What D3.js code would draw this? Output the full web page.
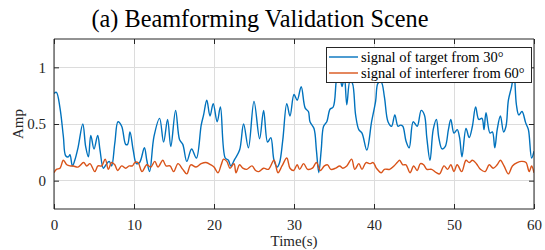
<!DOCTYPE html>
<html><head><meta charset="utf-8">
<script src="https://cdn.jsdelivr.net/npm/d3@7"></script>
<style>body{margin:0;background:#fff;} svg{display:block;}</style>
</head><body>
<svg id="chart" width="545" height="250" font-family="Liberation Serif"></svg>
<script>
const titleText = "(a) Beamforming Validation Scene";
const xLabel = "Time(s)";
const yLabel = "Amp";
const xTicks = [0, 10, 20, 30, 40, 50, 60];
const yTicks = [0, 0.5, 1];
const seriesNames = ["signal of target from 30°", "signal of interferer from 60°"];

const targetT = [0,0.3,0.75,1.17,1.46,1.8,2.0,2.3,2.6,3.0,3.6,3.96,4.3,4.6,5.0,5.46,5.75,6.17,6.5,6.9,7.2,7.6,8.0,8.46,8.96,9.2,9.5,9.9,10.3,10.7,11.3,11.6,11.95,12.5,13.2,13.7,14.2,14.6,15.2,15.7,16.1,16.6,17.2,17.8,18.4,18.7,19.1,19.5,19.9,20.4,20.8,21.4,21.8,22.1,22.6,23.2,23.7,24.3,25.0,25.7,26.2,26.7,27.1,27.5,27.9,28.2,28.6,29.1,29.5,30.0,30.4,30.9,31.4,31.8,32.0,32.5,32.8,33.1,33.4,33.7,34.1,34.5,34.9,35.3,35.6,36.0,36.3,36.6,37.0,37.3,37.7,38.1,38.5,39.1,39.7,40.2,40.5,40.9,41.3,41.75,42.2,42.6,43.0,43.3,43.6,44.0,44.4,44.9,45.4,45.9,46.3,46.6,47.0,47.4,47.8,48.1,48.5,48.9,49.3,49.6,50.0,50.4,50.7,51.0,51.5,51.9,52.3,52.7,53.1,53.5,53.75,54.0,54.5,54.8,55.1,55.4,55.8,56.2,56.5,56.8,57.2,57.5,57.8,58.1,58.5,58.96,59.3,59.7,60.0];
const targetV = [0.77,0.78,0.64,0.39,0.22,0.21,0.23,0.13,0.18,0.29,0.50,0.30,0.21,0.40,0.28,0.40,0.27,0.11,0.14,0.17,0.13,0.33,0.52,0.48,0.32,0.32,0.43,0.27,0.15,0.16,0.29,0.18,0.08,0.39,0.55,0.34,0.54,0.30,0.62,0.36,0.32,0.17,0.28,0.20,0.49,0.58,0.71,0.57,0.68,0.52,0.65,0.20,0.18,0.13,0.19,0.27,0.50,0.29,0.70,0.37,0.62,0.34,0.38,0.18,0.12,0.16,0.36,0.68,0.57,0.76,0.71,0.83,0.64,0.61,0.52,0.46,0.27,0.07,0.27,0.48,0.52,0.63,0.65,0.89,0.98,0.83,0.92,0.67,0.88,0.86,0.58,0.45,0.42,0.27,0.52,0.70,0.86,0.87,0.74,0.52,0.48,0.58,0.48,0.49,0.48,0.35,0.29,0.52,0.48,0.62,0.58,0.38,0.18,0.45,0.54,0.38,0.28,0.30,0.45,0.54,0.42,0.45,0.38,0.21,0.46,0.38,0.48,0.65,0.54,0.55,0.45,0.60,0.42,0.43,0.29,0.45,0.57,0.43,0.48,0.71,0.83,0.95,0.67,0.58,0.61,0.51,0.45,0.20,0.26];

const interfT = [0,0.3,0.75,1.17,1.6,2.0,2.4,3.0,3.7,4.1,4.5,5.1,5.5,5.96,6.4,6.8,7.2,7.6,7.96,8.46,8.96,9.4,9.8,10.1,10.5,11.0,11.6,12.1,12.6,13.0,13.6,14.0,14.5,14.96,15.5,16.1,16.6,17.1,17.75,18.4,19.0,19.6,20.0,20.5,20.9,21.2,21.6,22.0,22.5,22.75,23.2,23.6,24.1,24.75,25.2,25.6,26.2,26.8,27.5,28.0,28.5,29.1,29.5,29.96,30.4,30.7,31.2,31.7,32.3,32.8,33.3,33.8,34.2,34.6,35.2,35.7,36.1,36.6,37.2,37.6,38.1,38.5,39.0,39.5,39.9,40.3,40.9,41.3,41.96,42.5,42.9,43.2,43.6,44.0,44.5,44.96,45.4,45.8,46.2,46.6,47.2,47.8,48.2,48.75,49.2,49.6,50.0,50.4,50.96,51.5,51.9,52.3,52.8,53.3,53.9,54.4,54.9,55.4,55.8,56.25,56.8,57.3,57.9,58.5,59.0,59.4,59.7,60.0];
const interfV = [0.07,0.10,0.11,0.18,0.14,0.13,0.13,0.12,0.16,0.13,0.15,0.08,0.13,0.13,0.19,0.10,0.16,0.14,0.09,0.13,0.11,0.13,0.13,0.16,0.16,0.08,0.14,0.12,0.17,0.12,0.18,0.13,0.13,0.08,0.15,0.10,0.06,0.14,0.12,0.15,0.16,0.14,0.12,0.07,0.14,0.19,0.17,0.11,0.15,0.07,0.14,0.11,0.10,0.13,0.09,0.08,0.11,0.10,0.18,0.07,0.13,0.20,0.11,0.09,0.14,0.10,0.15,0.10,0.11,0.16,0.09,0.13,0.14,0.10,0.11,0.13,0.11,0.13,0.19,0.10,0.15,0.10,0.16,0.15,0.16,0.11,0.07,0.10,0.10,0.13,0.16,0.18,0.14,0.14,0.07,0.13,0.09,0.15,0.14,0.10,0.10,0.07,0.06,0.13,0.10,0.14,0.08,0.14,0.08,0.18,0.16,0.18,0.15,0.10,0.08,0.14,0.11,0.14,0.18,0.13,0.06,0.13,0.16,0.17,0.16,0.08,0.13,0.07];

const colors = ["#0072BD", "#D95319"];
const FONT = "Liberation Serif";
const svg = d3.select("#chart");
const L = 54, R = 534, T = 39, B = 209;
const x = d3.scaleLinear().domain([0, 60]).range([L, R]);
const y = d3.scaleLinear().domain([-0.25, 1.25]).range([B, T]);
const axisCol = "#262626";

// grid
const g = svg.append("g");
g.selectAll(".gx").data(xTicks).enter().append("line")
  .attr("x1", d => x(d)).attr("x2", d => x(d)).attr("y1", T).attr("y2", B)
  .attr("stroke", "#dcdcdc").attr("stroke-width", 1).attr("shape-rendering", "crispEdges");
g.selectAll(".gy").data(yTicks).enter().append("line")
  .attr("x1", L).attr("x2", R).attr("y1", d => y(d)).attr("y2", d => y(d))
  .attr("stroke", "#dcdcdc").attr("stroke-width", 1).attr("shape-rendering", "crispEdges");

// lines
svg.append("clipPath").attr("id", "clip").append("rect")
  .attr("x", L).attr("y", T).attr("width", R - L).attr("height", B - T);
const line = d3.line().x(d => x(d[0])).y(d => y(d[1])).curve(d3.curveCatmullRom.alpha(0.5));
const data = [d3.zip(targetT, targetV), d3.zip(interfT, interfV)];
svg.append("g").attr("clip-path", "url(#clip)").selectAll("path").data(data).enter().append("path")
  .attr("d", line).attr("fill", "none").attr("stroke", (d, i) => colors[i])
  .attr("stroke-width", 1.4).attr("stroke-linejoin", "round");

// axes (ticks inward, on all sides)
const tl = 5;
const ax = svg.append("g").attr("transform", `translate(0,${B})`)
  .call(d3.axisBottom(x).tickValues(xTicks).tickSize(-tl).tickPadding(10).tickFormat(d3.format("d")));
const axT = svg.append("g").attr("transform", `translate(0,${T})`)
  .call(d3.axisTop(x).tickValues(xTicks).tickSize(-tl).tickFormat(""));
const ay = svg.append("g").attr("transform", `translate(${L},0)`)
  .call(d3.axisLeft(y).tickValues(yTicks).tickSize(-tl).tickPadding(8).tickFormat(d => d === 0.5 ? "0.5" : d3.format("d")(d)));
const ayR = svg.append("g").attr("transform", `translate(${R},0)`)
  .call(d3.axisRight(y).tickValues(yTicks).tickSize(-tl).tickFormat(""));
[ax, axT, ay, ayR].forEach(a => {
  a.attr("font-family", FONT).attr("font-size", 15);
  a.select(".domain").attr("stroke", axisCol).attr("stroke-width", 1);
  a.selectAll(".tick line").attr("stroke", axisCol);
  a.selectAll("text").attr("fill", axisCol).attr("font-family", FONT).attr("font-size", 15);
});
ay.selectAll(".domain").attr("d", `M0,${T}V${B}`);
ayR.selectAll(".domain").attr("d", `M0,${T}V${B}`);
ax.selectAll(".domain").attr("d", `M${L},0H${R}`);
axT.selectAll(".domain").attr("d", `M${L},0H${R}`);

// axis labels
svg.append("text").attr("x", (L + R) / 2).attr("y", 246).attr("text-anchor", "middle")
  .attr("font-family", FONT).attr("font-size", 15).attr("fill", axisCol).text(xLabel);
svg.append("text").attr("transform", `translate(23,${(T + B) / 2}) rotate(-90)`).attr("text-anchor", "middle")
  .attr("font-family", FONT).attr("font-size", 15).attr("fill", axisCol).text(yLabel);

// title
const title = svg.append("text").attr("x", 260).attr("y", 27).attr("text-anchor", "middle")
  .attr("font-family", FONT).attr("font-size", 20).attr("fill", "#000").text(titleText);
const tw = title.node().getComputedTextLength();
title.attr("font-size", (20 * 337 / tw).toFixed(2));

// legend
const lg = svg.append("g");
lg.append("rect").attr("x", 326.5).attr("y", 47.5).attr("width", 205).attr("height", 35)
  .attr("fill", "#fff").attr("stroke", axisCol).attr("stroke-width", 1);
seriesNames.forEach((nm, i) => {
  const yy = 57 + i * 16;
  lg.append("line").attr("x1", 329).attr("x2", 358).attr("y1", yy).attr("y2", yy)
    .attr("stroke", colors[i]).attr("stroke-width", 1.4);
  lg.append("text").attr("x", 361).attr("y", yy + 5)
    .attr("font-family", FONT).attr("font-size", 14.5).attr("fill", "#000").text(nm);
});
</script>
</body></html>
